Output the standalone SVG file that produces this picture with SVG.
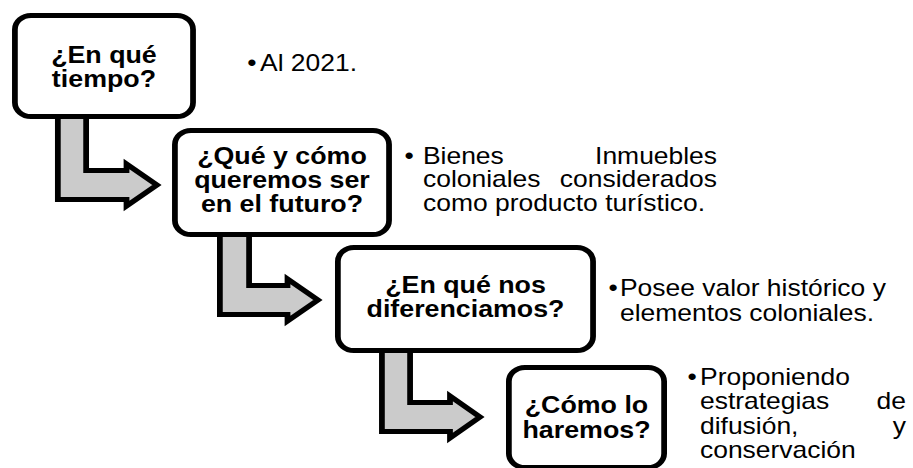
<svg xmlns="http://www.w3.org/2000/svg" width="913" height="468" viewBox="0 0 913 468">
<style>
.box{fill:#ffffff;stroke:#000000;stroke-width:5}
.arr{fill:#cbcbcb;stroke:#000000;stroke-width:5;stroke-linejoin:miter;stroke-miterlimit:10}
.q{font-family:"Liberation Sans",Arial,sans-serif;font-weight:bold;font-size:23.3px;fill:#000;text-anchor:middle}
.t{font-family:"Liberation Sans",Arial,sans-serif;font-size:23px;fill:#000}
.e{text-anchor:end}
</style>
<rect width="913" height="468" fill="#ffffff"/>
<g transform="scale(1.15,1)">
<g id="connectors">
<polygon class="arr" points="50.3,112 74.9,112 74.9,170.5 110,170.5 110,164 136.5,185 110,206 110,199.5 50.3,199.5"/>
<polygon class="arr" points="191.2,230 216.6,230 216.6,285.5 250,285.5 250,279 276.5,300 250,321 250,314.5 191.2,314.5"/>
<polygon class="arr" points="332.1,346 356.6,346 356.6,402.5 391.3,402.5 391.3,396 417.4,417 391.3,438 391.3,431.5 332.1,431.5"/>
</g>
<g id="n1">
<rect class="box" x="12.96" y="15.5" width="154.9" height="101" rx="14" ry="14"/>
<text class="q" x="90.4" y="63">¿En qué</text>
<text class="q" x="90.4" y="87">tiempo?</text>
</g>
<g id="n1t">
<text class="t" x="215" y="71">•</text>
<text class="t" x="226.1" y="71">Al 2021.</text>
</g>
<g id="n2">
<rect class="box" x="152.1" y="130.5" width="186.2" height="104" rx="14" ry="14"/>
<text class="q" x="245.2" y="164">¿Qué y cómo</text>
<text class="q" x="245.2" y="188">queremos ser</text>
<text class="q" x="245.2" y="212">en el futuro?</text>
</g>
<g id="n2t">
<text class="t" x="351.7" y="164">•</text>
<text class="t" x="367.8" y="164">Bienes</text>
<text class="t e" x="623.5" y="164">Inmuebles</text>
<text class="t" x="367.8" y="187.5">coloniales</text>
<text class="t e" x="623.5" y="187.5">considerados</text>
<text class="t" x="367.8" y="211">como producto turístico.</text>
</g>
<g id="n3">
<rect class="box" x="293.8" y="247.5" width="221.9" height="103" rx="14" ry="14"/>
<text class="q" x="404.8" y="293">¿En qué nos</text>
<text class="q" x="404.8" y="317">diferenciamos?</text>
</g>
<g id="n3t">
<text class="t" x="529.1" y="296.5">•</text>
<text class="t" x="539.1" y="296.5">Posee valor histórico y</text>
<text class="t" x="539.1" y="320.5">elementos coloniales.</text>
</g>
<g id="n4">
<rect class="box" x="442.5" y="367.5" width="135" height="100" rx="14" ry="14"/>
<text class="q" x="510" y="413">¿Cómo lo</text>
<text class="q" x="510" y="438">haremos?</text>
</g>
<g id="n4t">
<text class="t" x="597.8" y="385">•</text>
<text class="t" x="608.7" y="385">Proponiendo</text>
<text class="t" x="608.7" y="409.5">estrategias</text>
<text class="t e" x="787.8" y="409.5">de</text>
<text class="t" x="608.7" y="434">difusión,</text>
<text class="t e" x="787.8" y="434">y</text>
<text class="t" x="608.7" y="458.5">conservación</text>
</g>
</g>
</svg>
